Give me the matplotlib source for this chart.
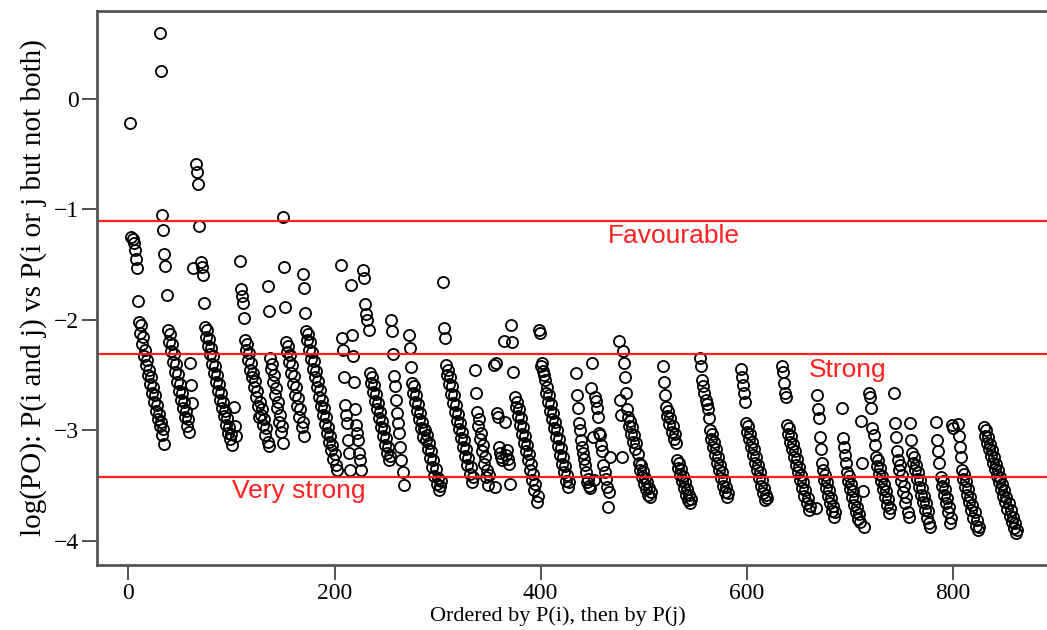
import matplotlib
matplotlib.use("Agg")
import matplotlib.pyplot as plt

# log(PO) values, one run per P(i) block; each block starts at its own index
starts = [2, 31, 66, 108, 135, 150, 169, 206, 216, 228, 255, 272, 305, 336, 355, 375,
          398, 434, 476, 519, 555, 594, 634, 667, 692, 719, 743, 758, 784, 805, 830]

g01 = [-0.22, -1.25, -1.27, -1.30, -1.37, -1.45, -1.53, -1.83, -2.02, -2.12, -2.05, -2.22, -2.15, -2.33, -2.27, -2.41,
       -2.36, -2.50, -2.45, -2.58, -2.52, -2.66, -2.61, -2.74, -2.68, -2.82, -2.77, -2.90, -2.85, -2.96, -2.92, -3.04,
       -2.99, -3.12]
g02 = [0.60, 0.25, -1.05, -1.19, -1.40, -1.51, -1.77, -2.09, -2.20, -2.13, -2.28, -2.22, -2.38, -2.31, -2.47, -2.40,
       -2.56, -2.49, -2.64, -2.58, -2.72, -2.66, -2.80, -2.74, -2.88, -2.82, -2.96, -2.90, -3.01, -2.39, -2.59, -2.75, -1.53]
g03 = [-0.59, -0.66, -0.77, -1.15, -1.48, -1.52, -1.59, -1.85, -2.06, -2.15, -2.09, -2.24, -2.17, -2.31, -2.25, -2.40,
       -2.33, -2.48, -2.42, -2.56, -2.50, -2.64, -2.58, -2.72, -2.66, -2.80, -2.74, -2.87, -2.82, -2.95, -2.89, -3.02,
       -2.97, -3.08, -3.03, -3.13, -2.79, -2.96, -3.05]
g04 = [-1.47, -1.72, -1.78, -1.85, -1.98, -2.18, -2.27, -2.22, -2.36, -2.30, -2.45, -2.39, -2.52, -2.48, -2.61, -2.55,
       -2.70, -2.64, -2.78, -2.88, -2.74, -2.86, -2.81, -2.95, -2.90, -3.04, -2.98, -3.10, -3.14]
g05 = [-1.69, -1.92, -2.34, -2.44, -2.40, -2.56, -2.50, -2.68, -2.62, -2.80, -2.74, -2.92, -2.86, -3.01, -2.96, -3.11]
g06 = [-1.07, -1.52, -1.88, -2.20, -2.29, -2.24, -2.38, -2.32, -2.48, -2.41, -2.58, -2.51, -2.68, -2.61, -2.78, -2.71,
       -2.88, -2.81, -2.97, -2.92, -3.05]
g07 = [-1.58, -1.71, -1.94, -2.10, -2.18, -2.13, -2.27, -2.20, -2.35, -2.29, -2.44, -2.37, -2.52, -2.46, -2.61, -2.55,
       -2.70, -2.63, -2.78, -2.72, -2.86, -2.80, -2.94, -2.88, -3.02, -2.97, -3.10, -3.05, -3.18, -3.13, -3.26, -3.21,
       -3.31, -3.36]
g08 = [-1.50, -2.16, -2.27, -2.52, -2.77, -2.86, -2.93, -3.09, -3.20, -3.36]
g09 = [-1.68, -2.14, -2.33, -2.56, -2.81, -2.95, -3.02, -3.09, -3.20, -3.27, -3.36]
g10 = [-1.55, -1.62, -1.86, -1.95, -2.00, -2.09, -2.48, -2.57, -2.52, -2.65, -2.59, -2.73, -2.67, -2.81, -2.75, -2.89,
       -2.83, -2.97, -2.91, -3.05, -2.99, -3.13, -3.07, -3.20, -3.15, -3.27, -3.23]
g11 = [-2.00, -2.10, -2.31, -2.51, -2.60, -2.72, -2.84, -2.93, -3.02, -3.15, -3.27, -3.38, -3.49]
g12 = [-2.14, -2.25, -2.43, -2.57, -2.66, -2.60, -2.74, -2.68, -2.82, -2.76, -2.90, -2.84, -2.98, -2.92, -3.06, -2.99,
       -3.00, -3.09, -3.04, -3.17, -3.11, -3.25, -3.19, -3.33, -3.27, -3.41, -3.35, -3.48, -3.43, -3.54, -3.50, -3.46]
g13 = [-1.66, -2.07, -2.16, -2.41, -2.50, -2.45, -2.58, -2.52, -2.67, -2.60, -2.75, -2.68, -2.83, -2.77, -2.91, -2.85,
       -2.99, -2.93, -3.07, -3.01, -3.15, -3.09, -3.23, -3.17, -3.31, -3.25, -3.39, -3.33, -3.47, -3.42]
g14 = [-2.45, -2.66, -2.83, -2.96, -2.90, -3.08, -3.02, -3.19, -3.13, -3.30, -3.24, -3.42, -3.36, -3.49, -3.40]
g15 = [-2.41, -3.51, -2.39, -2.84, -2.88, -3.15, -3.20, -3.24, -3.27, -2.19, -2.92, -3.22, -3.18, -3.26, -3.30, -3.48,
       -2.05, -2.20, -2.47]
g16 = [-2.70, -2.79, -2.74, -2.87, -2.81, -2.95, -2.89, -3.03, -2.97, -3.11, -3.05, -3.19, -3.13, -3.27, -3.21, -3.36,
       -3.30, -3.45, -3.39, -3.54, -3.48, -3.65, -3.59]
g17 = [-2.09, -2.12, -2.42, -2.39, -2.46, -2.50, -2.54, -2.66, -2.61, -2.74, -2.68, -2.82, -2.76, -2.90, -2.84, -2.98,
       -2.92, -3.06, -3.00, -3.14, -3.08, -3.22, -3.16, -3.30, -3.24, -3.38, -3.32, -3.46, -3.40, -3.51, -3.47]
g18 = [-2.48, -2.68, -2.80, -2.93, -3.00, -3.09, -3.15, -3.20, -3.26, -3.31, -3.38, -3.47, -3.44, -3.50, -3.52, -2.62,
       -2.39, -3.06, -3.45, -2.70, -2.73, -2.80, -2.88, -3.02, -3.04, -3.13, -3.19, -3.31, -3.38, -3.44, -3.51, -3.69,
       -3.56, -3.24]
g19 = [-2.19, -2.72, -2.86, -3.24, -2.28, -2.39, -2.52, -2.66, -2.81, -2.88, -2.96, -2.91, -3.03, -2.97, -3.10, -3.04,
       -3.17, -3.11, -3.21, -3.29, -3.36, -3.31, -3.42, -3.37, -3.48, -3.43, -3.53, -3.47, -3.58, -3.52, -3.60, -3.56]
g20 = [-2.42, -2.56, -2.68, -2.79, -2.87, -2.82, -2.94, -2.89, -3.01, -2.96, -3.08, -3.03, -3.11, -3.27, -3.34, -3.29,
       -3.40, -3.35, -3.46, -3.41, -3.52, -3.47, -3.58, -3.53, -3.63, -3.58, -3.66, -3.62]
g21 = [-2.34, -2.42, -2.54, -2.60, -2.66, -2.72, -2.76, -2.81, -2.89, -3.00, -3.08, -3.03, -3.15, -3.10, -3.22, -3.17,
       -3.29, -3.24, -3.36, -3.31, -3.43, -3.38, -3.50, -3.45, -3.56, -3.51, -3.60, -3.57]
g22 = [-2.44, -2.52, -2.59, -2.66, -2.74, -2.93, -3.01, -2.96, -3.08, -3.03, -3.15, -3.10, -3.22, -3.17, -3.29, -3.24,
       -3.36, -3.31, -3.43, -3.38, -3.50, -3.45, -3.57, -3.52, -3.63, -3.58, -3.61]
g23 = [-2.42, -2.47, -2.57, -2.66, -2.70, -2.95, -3.03, -2.98, -3.10, -3.05, -3.17, -3.12, -3.24, -3.19, -3.31, -3.26,
       -3.38, -3.33, -3.45, -3.40, -3.52, -3.47, -3.59, -3.54, -3.66, -3.61, -3.72, -3.68]
g24 = [-3.70, -2.68, -2.81, -2.89, -3.06, -3.17, -3.29, -3.36, -3.45, -3.40, -3.52, -3.47, -3.59, -3.54, -3.66, -3.61,
       -3.73, -3.68, -3.78, -3.74]
g25 = [-2.80, -3.07, -3.15, -3.22, -3.29, -3.38, -3.46, -3.41, -3.53, -3.48, -3.60, -3.55, -3.67, -3.62, -3.74, -3.69,
       -3.80, -3.76, -3.83, -2.91, -3.29, -3.55, -3.87]
g26 = [-2.66, -2.70, -2.80, -2.98, -3.04, -3.13, -3.24, -3.32, -3.27, -3.39, -3.34, -3.46, -3.41, -3.53, -3.48, -3.60,
       -3.55, -3.67, -3.62, -3.75, -3.70]
g27 = [-2.66, -2.93, -3.06, -3.19, -3.27, -3.36, -3.31, -3.46, -3.40, -3.56, -3.50, -3.66, -3.60, -3.74, -3.78]
g28 = [-2.93, -3.09, -3.20, -3.29, -3.24, -3.36, -3.31, -3.44, -3.38, -3.51, -3.45, -3.58, -3.52, -3.65, -3.59, -3.72,
       -3.66, -3.79, -3.73, -3.84, -3.87]
g29 = [-2.92, -3.09, -3.19, -3.29, -3.42, -3.50, -3.46, -3.58, -3.53, -3.66, -3.61, -3.74, -3.69, -3.84, -3.79, -2.95,
       -2.98]
g30 = [-2.94, -3.05, -3.15, -3.24, -3.36, -3.44, -3.39, -3.51, -3.46, -3.58, -3.53, -3.65, -3.60, -3.72, -3.67, -3.79,
       -3.74, -3.86, -3.81, -3.90, -3.87]
g31 = [-2.97, -3.05, -3.00, -3.11, -3.06, -3.17, -3.12, -3.23, -3.18, -3.29, -3.24, -3.35, -3.30, -3.41, -3.36, -3.47,
       -3.42, -3.53, -3.48, -3.59, -3.54, -3.65, -3.60, -3.71, -3.66, -3.77, -3.72, -3.83, -3.78, -3.88, -3.84, -3.93, -3.90]

blocks = [g01, g02, g03, g04, g05, g06, g07, g08, g09, g10, g11, g12, g13, g14, g15, g16,
          g17, g18, g19, g20, g21, g22, g23, g24, g25, g26, g27, g28, g29, g30, g31]

# threshold lines and their labels
thresholds = [-1.10, -2.31, -3.42]
labels = ["Favourable", "Strong", "Very strong"]
label_x = [465, 660, 101]
label_y = [-1.24, -2.45, -3.55]

x_ticks = [0, 200, 400, 600, 800]
y_ticks = [-4, -3, -2, -1, 0]

xs, ys = [], []
for s, vals in zip(starts, blocks):
    for k, v in enumerate(vals):
        xs.append(s + k)
        ys.append(v)

fig = plt.figure(figsize=(10.47, 6.3), dpi=100)
ax = fig.add_axes([0.0926, 0.1032, 0.912, 0.8794])

ax.plot(xs, ys, linestyle="none", marker="o", markersize=8, markerfacecolor="none",
        markeredgecolor="black", markeredgewidth=1.3)

for t, lab, lx, ly in zip(thresholds, labels, label_x, label_y):
    ax.axhline(t, color="#ff2020", linewidth=1.6)
    ax.text(lx, ly, lab, color="#ff2020", fontsize=19, family="Liberation Sans",
            ha="left", va="center")

ax.set_xlim(-30.5, 896)
ax.set_ylim(-4.217, 0.796)
ax.set_xticks(x_ticks)
ax.set_yticks(y_ticks)
ax.set_yticklabels([("\u2212%d" % -v) if v < 0 else str(v) for v in y_ticks])
ax.tick_params(direction="out", length=11, width=1.2, colors="#333333", labelcolor="black",
               labelsize=17, pad=2)
for lab in ax.get_xticklabels() + ax.get_yticklabels():
    lab.set_family("Liberation Serif")

for sp in ax.spines.values():
    sp.set_color("#555555")
    sp.set_linewidth(2)

ax.set_xlabel("Ordered by P(i), then by P(j)", family="Liberation Serif", fontsize=16)
ax.xaxis.set_label_coords(0.483, -0.075)
ax.set_ylabel("log(PO): P(i and j) vs P(i or j but not both)", family="Liberation Serif",
              fontsize=21, labelpad=5)

fig.savefig("out.png", dpi=100)
